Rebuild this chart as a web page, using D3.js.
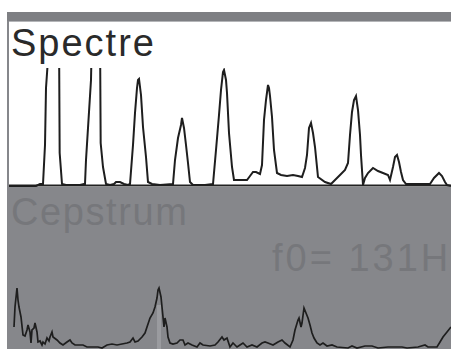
<!DOCTYPE html>
<html>
<head>
<meta charset="utf-8">
<script src="https://cdn.jsdelivr.net/npm/d3@7"></script>
<style>
html,body{margin:0;padding:0;background:#fff;}
svg{display:block;}
text{font-family:"Liberation Sans",Arial,sans-serif;}
</style>
</head>
<body>
<script>
// Spectrum: frequency (Hz) and relative amplitude
const specFreq = [0,33,81,93,102,108,111,123,138,150,152,159,171,213,225,228,231,237,246,249,261,273,275,282,291,303,315,321,333,345,357,363,372,378,384,387,390,396,402,411,417,429,453,492,498,507,516,519,525,531,537,543,552,588,612,621,630,636,642,645,651,654,660,669,675,693,714,723,732,741,753,759,765,771,777,780,783,789,795,804,816,834,852,867,879,888,894,900,906,912,918,927,948,966,978,993,1008,1017,1023,1029,1035,1041,1047,1053,1056,1062,1068,1077,1092,1107,1122,1137,1143,1152,1158,1164,1170,1176,1182,1191,1233,1263,1275,1290,1299,1308,1314,1326];
const specAmp  = [0,0,0,2,2,41,98,156,176,156,33,2,1,1,2,2,26,58,106,156,176,156,43,19,2,1,2,4,4,2,1,2,41,73,98,106,107,91,59,29,4,2,1,2,26,48,61,68,58,41,23,4,1,1,2,36,71,96,114,116,106,93,53,19,6,6,6,10,14,14,12,21,66,86,101,98,90,69,36,13,11,10,11,10,9,18,31,58,63,53,39,9,4,2,6,11,16,23,51,74,86,90,76,51,31,1,8,13,18,15,13,11,6,19,29,31,24,14,6,2,2,2,8,13,10,4,1,0];

// Cepstrum: quefrency (samples) and relative amplitude
const cepQuef = [2.5,3,4,4.5,5,6,7,8,9,9.5,10.5,11,11.5,12.5,13,14,14.5,15.5,16.5,17,18,19,20,20.5,21.5,22,24,25.5,27,29,30.5,31.5,33,37,39,44.5,46.5,49,51.5,54,56.5,59,60.5,62,63,64.5,66.5,68,69,70.5,72,73,74,74.5,75,76,76.5,77,77.5,78,79,79.5,80.5,82,84,85.5,87,88,89.5,91.5,94,95.5,97,100.5,103,104.5,106.5,107.5,109,110.5,112,114,115.5,117,119,121.5,124,126.5,128,129.5,132,134.5,136.5,138,140.5,142,143,144.5,145,146,146.5,147.5,148.5,149.5,150.5,151.5,152.5,154,155.5,157,159,161.5,164,169.5,171.5,174,178,181.5,184.5,189.5,196.5,199,204.5,208,209.5,214,215.5,217,219,221];
const cepAmp  = [23,43,62,50,43,33,15,14,20,25,18,7,20,22,27,18,8,9,5,8,6,12,9,13,18,13,10,7,5,8,10,7,5,5,3,3,2,5,6,5,6,7,8,12,8,9,13,17,23,32,37,43,52,60,62,53,43,33,23,32,23,13,7,6,7,10,10,5,7,5,3,7,5,4,5,8,13,10,12,3,7,3,5,7,3,5,3,7,8,7,5,8,10,7,3,10,20,30,32,23,27,42,37,32,25,17,12,7,5,7,4,5,3,2,4,2,4,4,2,3,3,2,3,5,3,3,8,13,18,23];

const titles = ["Spectre", "Cepstrum"];
const pitchLabel = "f0= 131Hz";
const pitchQuef = [75];

const W = 451, H = 349;
const svg = d3.select("body").append("svg").attr("width", W).attr("height", H);

// frame
svg.append("rect").attr("x",0).attr("y",0).attr("width",W).attr("height",H).attr("fill","#fff");
svg.append("rect").attr("x",7).attr("y",12).attr("width",W-7).attr("height",9).attr("fill","#7e7f83");
svg.append("rect").attr("x",7).attr("y",21).attr("width",W-7).attr("height",1).attr("fill","#b4b5b8");
svg.append("rect").attr("x",7).attr("y",21).attr("width",2).attr("height",166).attr("fill","#86878b");
svg.append("rect").attr("x",7).attr("y",187).attr("width",W-7).attr("height",H-187).attr("fill","#86878b");

const defs = svg.append("defs");
defs.append("clipPath").attr("id","specClip").append("rect").attr("x",9).attr("y",68).attr("width",W-9).attr("height",120);
defs.append("clipPath").attr("id","cepClip").append("rect").attr("x",9).attr("y",187).attr("width",W-9).attr("height",H-187);

// spectrum
const xs = d3.scaleLinear().domain([0,1326]).range([9,451]);
const ys = d3.scaleLinear().domain([0,118]).range([186,68]);
svg.append("line").attr("x1",9).attr("x2",W).attr("y1",185.5).attr("y2",185.5).attr("stroke","#222").attr("stroke-width",2);
const specData = specFreq.map((f,i)=>[f,specAmp[i]]);
svg.append("path").datum(specData)
  .attr("clip-path","url(#specClip)")
  .attr("d", d3.line().x(d=>xs(d[0])).y(d=>ys(d[1])))
  .attr("fill","none").attr("stroke","#1e1e1e").attr("stroke-width",2).attr("stroke-linejoin","miter");

svg.append("text").attr("x",11).attr("y",56).text(titles[0])
  .attr("font-size",38).attr("letter-spacing",2).attr("fill","#2a2a2a");

// cepstrum
const xc = d3.scaleLinear().domain([0,221]).range([9,451]);
const yc = d3.scaleLinear().domain([0,62]).range([350,288]);
svg.append("text").attr("x",11).attr("y",225).text(titles[1])
  .attr("font-size",38).attr("letter-spacing",1.6).attr("fill","#76777b");
svg.append("text").attr("x",272).attr("y",271).text(pitchLabel)
  .attr("font-size",38).attr("letter-spacing",3).attr("fill","#76777b");

svg.selectAll(".mark").data(pitchQuef).enter().append("line")
  .attr("x1",d=>xc(d)).attr("x2",d=>xc(d)).attr("y1",yc(45)).attr("y2",H)
  .attr("stroke","#9a9b9f").attr("stroke-width",4);

const cepData = cepQuef.map((q,i)=>[q,cepAmp[i]]);
svg.append("path").datum(cepData)
  .attr("clip-path","url(#cepClip)")
  .attr("d", d3.line().x(d=>xc(d[0])).y(d=>yc(d[1])))
  .attr("fill","none").attr("stroke","#1e1e1e").attr("stroke-width",1.7);
</script>
</body>
</html>
